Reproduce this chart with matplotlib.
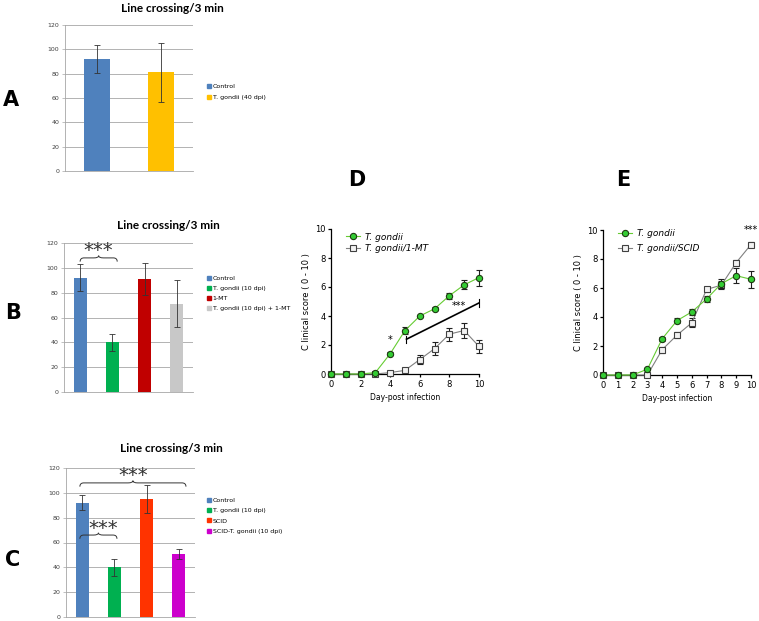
import matplotlib.pyplot as plt
from matplotlib.path import Path
from matplotlib.patches import PathPatch
from matplotlib.lines import Line2D

W, H = 759, 621

# ---- data ----
a_labels = ["Control", "T. gondii (40 dpi)"]
a_vals = [92, 81]
a_err = [11.5, 24.5]
a_colors = ["#4F81BD", "#FFC000"]

b_labels = ["Control", "T. gondii (10 dpi)", "1-MT", "T. gondii (10 dpi) + 1-MT"]
b_vals = [92, 40, 91, 71]
b_err = [11, 7, 13, 19]
b_colors = ["#4F81BD", "#00B050", "#C00000", "#C8C8C8"]

c_labels = ["Control", "T. gondii (10 dpi)", "SCID", "SCID-T. gondii (10 dpi)"]
c_vals = [92, 40, 95, 51]
c_err = [6, 7, 11, 4]
c_colors = ["#4F81BD", "#00B050", "#FF3300", "#CC00CC"]

days = list(range(11))
d_tg = [0, 0, 0, 0.1, 1.4, 3.0, 4.0, 4.5, 5.4, 6.15, 6.65]
d_tg_err = [0, 0, 0, 0.05, 0.12, 0.25, 0.1, 0.1, 0.2, 0.3, 0.55]
d_mt = [0, 0, 0, 0, 0.1, 0.25, 1.0, 1.75, 2.75, 3.0, 1.9]
d_mt_err = [0, 0, 0, 0, 0.05, 0.1, 0.3, 0.45, 0.45, 0.5, 0.45]

e_tg = [0, 0, 0, 0.4, 2.5, 3.75, 4.35, 5.25, 6.3, 6.85, 6.6]
e_tg_err = [0, 0, 0, 0.05, 0.15, 0.15, 0.2, 0.2, 0.3, 0.5, 0.6]
e_scid = [0, 0, 0, 0, 1.75, 2.75, 3.6, 5.9, 6.2, 7.75, 9.0]
e_scid_err = [0, 0, 0, 0, 0.2, 0.2, 0.3, 0.2, 0.3, 0.2, 0.15]


def box(l, t, r, b):
    return [l / W, 1 - b / H, (r - l) / W, (b - t) / H]


fig = plt.figure(figsize=(W / 100, H / 100), dpi=100)
fig.patch.set_facecolor("white")


def bar_panel(rect, labels, vals, errs, colors, leg_xy, spacing):
    ax = fig.add_axes(rect)
    x = [i + 0.5 for i in range(len(vals))]
    ax.bar(x, vals, width=0.4, color=colors, yerr=errs, capsize=2,
           error_kw=dict(elinewidth=0.6, capthick=0.6, ecolor="#333333"),
           zorder=3)
    ax.set_xlim(0, len(vals))
    ax.set_ylim(0, 120)
    ax.set_yticks(range(0, 121, 20))
    ax.set_xticks([])
    ax.grid(axis="y", color="#A6A6A6", linewidth=0.6, zorder=0)
    for s in ["top", "right"]:
        ax.spines[s].set_visible(False)
    for s in ["left", "bottom"]:
        ax.spines[s].set_color("#A6A6A6")
        ax.spines[s].set_linewidth(0.6)
    ax.tick_params(axis="y", labelsize=4.5, length=2, width=0.5,
                   colors="#A6A6A6", labelcolor="#404040", pad=2)
    handles = [plt.Rectangle((0, 0), 1, 1, color=c) for c in colors]
    ax.legend(handles, labels, loc="upper left",
              bbox_to_anchor=(leg_xy[0] / W, 1 - leg_xy[1] / H),
              bbox_transform=fig.transFigure, frameon=False, fontsize=4.5,
              handlelength=0.6, handleheight=0.6, handletextpad=0.3,
              labelspacing=spacing, borderaxespad=0, borderpad=0)
    return ax


def brace(ax, x0, x1, y, h):
    xm = (x0 + x1) / 2
    verts = [(x0, y - h), (x0, y), (x0 + 0.12, y), (xm - 0.15, y),
             (xm, y), (xm, y + h * 0.6), (xm, y), (xm + 0.15, y),
             (x1 - 0.12, y), (x1, y), (x1, y - h)]
    codes = [Path.MOVETO, Path.CURVE3, Path.CURVE3, Path.LINETO,
             Path.CURVE3, Path.CURVE3, Path.CURVE3, Path.CURVE3,
             Path.LINETO, Path.CURVE3, Path.CURVE3]
    ax.add_patch(PathPatch(Path(verts, codes), fill=False, lw=0.7,
                           edgecolor="#333333", clip_on=False, zorder=5))


axA = bar_panel(box(65, 25, 193, 171), a_labels, a_vals, a_err, a_colors,
                (207, 84), 0.9)
axB = bar_panel(box(64, 243, 193, 392), b_labels, b_vals, b_err, b_colors,
                (207, 276), 0.75)
axC = bar_panel(box(66, 468, 195, 617), c_labels, c_vals, c_err, c_colors,
                (207, 498), 0.8)

star_kw = dict(ha="center", va="bottom", fontsize=14, color="#333333",
               clip_on=False)
brace(axB, 0.5, 1.65, 108, 3)
axB.text(1.05, 106, "***", **star_kw)
brace(axC, 0.43, 3.72, 108, 3)
axC.text(2.08, 106, "***", **star_kw)
brace(axC, 0.43, 1.58, 66, 3)
axC.text(1.15, 64, "***", **star_kw)

title_kw = dict(fontsize=8.5, fontweight="bold", ha="center", va="center",
                family="Lato")
fig.text(172 / W, 1 - 8 / H, "Line crossing/3 min", **title_kw)
fig.text(168 / W, 1 - 225 / H, "Line crossing/3 min", **title_kw)
fig.text(171 / W, 1 - 449 / H, "Line crossing/3 min", **title_kw)

big_kw = dict(fontsize=15, fontweight="bold", ha="center", va="center")
fig.text(11 / W, 1 - 100 / H, "A", **big_kw)
fig.text(13 / W, 1 - 313 / H, "B", **big_kw)
fig.text(13 / W, 1 - 560 / H, "C", **big_kw)
fig.text(357 / W, 1 - 180 / H, "D", **big_kw)
fig.text(623 / W, 1 - 180 / H, "E", **big_kw)

narrow = ["Liberation Sans Narrow", "DejaVu Sans"]
tg_style = dict(color="#66CC33", marker="o", ms=4.5, mfc="#33CC33",
                mec="#1E3A12", mew=0.8)
ko_style = dict(color="#808080", marker="s", ms=4.5, mfc="#F2F2F2",
                mec="#404040", mew=0.8)


def line_panel(rect, s1, e1, s2, e2, xticks):
    ax = fig.add_axes(rect)
    ax.errorbar(days, s2, yerr=e2, lw=0.8, ecolor="#202020", elinewidth=0.8,
                capsize=2, capthick=0.8, clip_on=False, zorder=3, **ko_style)
    ax.errorbar(days, s1, yerr=e1, lw=0.8, ecolor="#202020", elinewidth=0.8,
                capsize=2, capthick=0.8, clip_on=False, zorder=4, **tg_style)
    ax.set_xlim(0, 10)
    ax.set_ylim(0, 10)
    ax.set_xticks(xticks)
    ax.set_yticks(range(0, 11, 2))
    for s in ["top", "right"]:
        ax.spines[s].set_visible(False)
    for s in ["left", "bottom"]:
        ax.spines[s].set_linewidth(0.9)
    ax.tick_params(labelsize=6, length=2.5, width=0.9, pad=1.5)
    for t in ax.get_xticklabels() + ax.get_yticklabels():
        t.set_family(narrow)
    ax.set_xlabel("Day-post infection", fontsize=5.5, family=narrow,
                  labelpad=3)
    ax.set_ylabel("C linical score ( 0 - 10 )", fontsize=6, family=narrow,
                  labelpad=3)
    return ax


def series_legend(ax, lab2, anchor, spacing):
    handles = [Line2D([], [], lw=0.8, **tg_style),
               Line2D([], [], lw=0.8, **ko_style)]
    ax.legend(handles, ["T. gondii", lab2], loc="upper left",
              bbox_to_anchor=anchor, frameon=False,
              prop=dict(family=narrow, style="italic", size=6.5),
              handlelength=1.5, handletextpad=0.5, labelspacing=spacing,
              borderaxespad=0)


axD = line_panel(box(331, 229, 479, 374), d_tg, d_tg_err, d_mt, d_mt_err,
                 range(0, 11, 2))
series_legend(axD, "T. gondii/1-MT", (0.08, 1.0), 0.3)
axD.text(4, 2.15, "*", ha="center", fontsize=7)
axD.plot([5.1, 10], [2.4, 4.9], color="black", lw=1.2)
axD.plot([5.1, 5.1], [2.15, 2.65], color="black", lw=0.8)
axD.plot([10, 10], [4.65, 5.15], color="black", lw=0.8, clip_on=False)
axD.text(8.65, 4.45, "***", ha="center", fontsize=7)

axE = line_panel(box(603, 230, 751, 375), e_tg, e_tg_err, e_scid,
                 e_scid_err, range(0, 11))
series_legend(axE, "T. gondii/SCID", (0.08, 1.03), 0.6)
axE.text(10, 9.8, "***", ha="center", fontsize=7)

fig.savefig("out.png", dpi=100)
